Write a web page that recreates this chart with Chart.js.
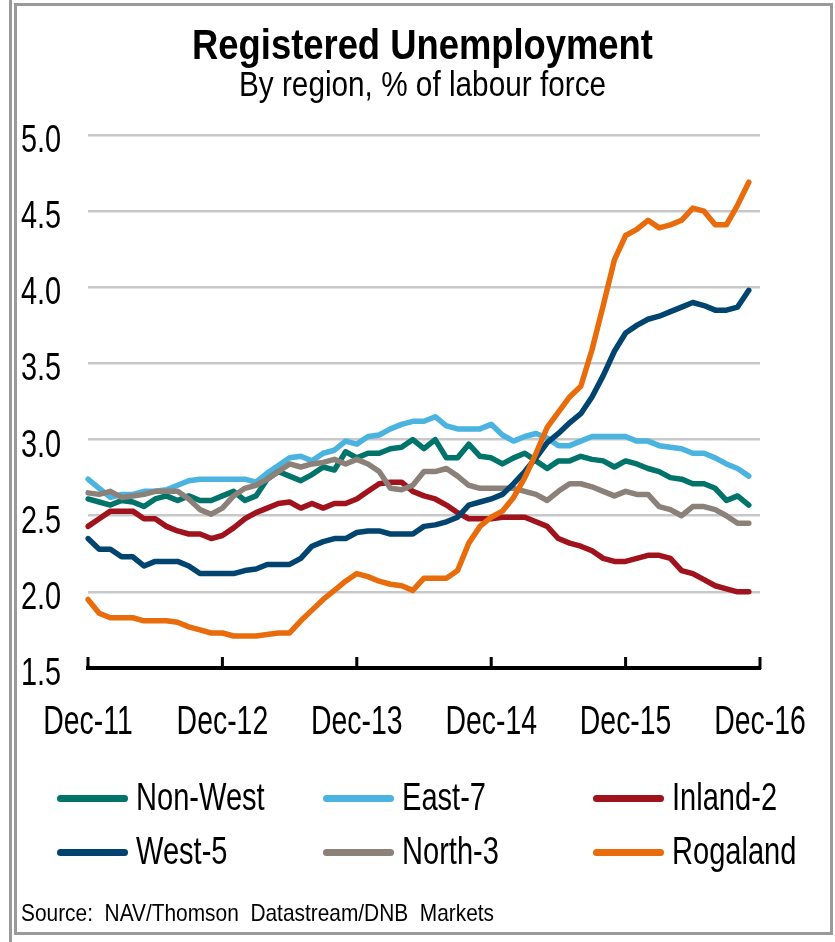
<!DOCTYPE html>
<html>
<head>
<meta charset="utf-8">
<script src="https://cdn.jsdelivr.net/npm/chart.js@4.4.1/dist/chart.umd.min.js"></script>
<style>
  html, body { margin: 0; padding: 0; background: #fff; }
  #wrap { position: relative; width: 835px; height: 942px; overflow: hidden;
    font-family: "Liberation Sans", Arial, sans-serif; color: #000; }
  #chart { position: absolute; left: 0; top: 0; }
  .rule { position: absolute; background: #9a9a9a; }
  .frame { position: absolute; left: 14px; top: 3px; width: 813px; height: 926px;
    border: 3px solid #9a9a9a; }
  .txt { position: absolute; white-space: pre; line-height: 1; }
  /* the original uses a narrow face: squeeze horizontally */
  #title { left: 5px; width: 835px; text-align: center; top: 24px; font-size: 42px; font-weight: bold;
    transform: scaleX(0.866); transform-origin: center; }
  #subtitle { left: 5px; width: 835px; text-align: center; top: 66px; font-size: 35px;
    transform: scaleX(0.85); transform-origin: center; }
  #source { left: 21px; top: 901px; font-size: 24px; transform: scaleX(0.87); transform-origin: left; }
  .sw { position: absolute; width: 71px; height: 7px; border-radius: 4px; }
  .lg { position: absolute; font-size: 38px; line-height: 1; white-space: pre;
    transform: scaleX(0.765); transform-origin: left; }
</style>
</head>
<body>
<div id="wrap">
  <div class="rule" style="left:9px;top:0;width:3px;height:942px"></div>
  <div class="frame"></div>
  <canvas id="chart" width="835" height="942"></canvas>
  <div id="title" class="txt">Registered Unemployment</div>
  <div id="subtitle" class="txt">By region, % of labour force</div>
  <div id="legend"></div>
  <div id="source" class="txt">Source:  NAV/Thomson  Datastream/DNB  Markets</div>
</div>
<script>
// monthly, Dec-11 .. Nov-16 (60 points); axis runs to Dec-16
const tickLabels = ["Dec-11", "Dec-12", "Dec-13", "Dec-14", "Dec-15", "Dec-16"];
const monthNames = ["Dec", "Jan", "Feb", "Mar", "Apr", "May", "Jun", "Jul", "Aug", "Sep", "Oct", "Nov"];

const nonWest = [2.61, 2.59, 2.57, 2.60, 2.59, 2.56, 2.61, 2.63, 2.60, 2.63, 2.60, 2.60,
  2.63, 2.66, 2.60, 2.63, 2.74, 2.79, 2.76, 2.73, 2.77, 2.82, 2.80, 2.92,
  2.88, 2.91, 2.91, 2.94, 2.95, 3.00, 2.94, 3.00, 2.88, 2.88, 2.97, 2.89,
  2.88, 2.84, 2.88, 2.91, 2.86, 2.81, 2.86, 2.86, 2.89, 2.87, 2.86, 2.82,
  2.86, 2.84, 2.81, 2.79, 2.75, 2.74, 2.71, 2.71, 2.68, 2.60, 2.63, 2.57];
const east7 = [2.74, 2.68, 2.62, 2.64, 2.64, 2.66, 2.66, 2.67, 2.70, 2.73, 2.74, 2.74,
  2.74, 2.74, 2.74, 2.72, 2.78, 2.83, 2.88, 2.89, 2.86, 2.91, 2.93, 2.99,
  2.97, 3.02, 3.03, 3.07, 3.10, 3.12, 3.12, 3.15, 3.09, 3.07, 3.07, 3.07,
  3.10, 3.03, 2.99, 3.02, 3.04, 3.01, 2.96, 2.96, 2.99, 3.02, 3.02, 3.02,
  3.02, 2.99, 2.99, 2.96, 2.95, 2.94, 2.91, 2.91, 2.88, 2.84, 2.81, 2.76];
const inland2 = [2.43, 2.48, 2.53, 2.53, 2.53, 2.48, 2.48, 2.43, 2.40, 2.38, 2.38, 2.35,
  2.37, 2.42, 2.48, 2.52, 2.55, 2.58, 2.59, 2.55, 2.58, 2.55, 2.58, 2.58,
  2.61, 2.66, 2.71, 2.72, 2.72, 2.66, 2.63, 2.61, 2.57, 2.52, 2.48, 2.48,
  2.48, 2.49, 2.49, 2.49, 2.46, 2.43, 2.35, 2.32, 2.30, 2.27, 2.22, 2.20,
  2.20, 2.22, 2.24, 2.24, 2.22, 2.14, 2.12, 2.08, 2.04, 2.02, 2.00, 2.00];
const west5 = [2.35, 2.28, 2.28, 2.23, 2.23, 2.17, 2.20, 2.20, 2.20, 2.17, 2.12, 2.12,
  2.12, 2.12, 2.14, 2.15, 2.18, 2.18, 2.18, 2.22, 2.30, 2.33, 2.35, 2.35,
  2.39, 2.40, 2.40, 2.38, 2.38, 2.38, 2.43, 2.44, 2.46, 2.49, 2.57, 2.59,
  2.61, 2.64, 2.71, 2.79, 2.88, 2.98, 3.04, 3.11, 3.17, 3.28, 3.42, 3.58,
  3.70, 3.75, 3.79, 3.81, 3.84, 3.87, 3.90, 3.88, 3.85, 3.85, 3.87, 3.98];
const north3 = [2.65, 2.64, 2.66, 2.62, 2.63, 2.64, 2.66, 2.66, 2.66, 2.61, 2.54, 2.51,
  2.55, 2.63, 2.68, 2.70, 2.74, 2.79, 2.84, 2.82, 2.84, 2.85, 2.87, 2.84,
  2.87, 2.84, 2.79, 2.68, 2.67, 2.70, 2.79, 2.79, 2.81, 2.76, 2.70, 2.68,
  2.68, 2.68, 2.68, 2.66, 2.64, 2.60, 2.66, 2.71, 2.71, 2.69, 2.66, 2.63,
  2.66, 2.64, 2.64, 2.56, 2.54, 2.50, 2.56, 2.56, 2.54, 2.50, 2.45, 2.45];
const rogaland = [1.95, 1.86, 1.83, 1.83, 1.83, 1.81, 1.81, 1.81, 1.80, 1.77, 1.75, 1.73,
  1.73, 1.71, 1.71, 1.71, 1.72, 1.73, 1.73, 1.81, 1.88, 1.95, 2.01, 2.07,
  2.12, 2.10, 2.07, 2.05, 2.04, 2.01, 2.09, 2.09, 2.09, 2.14, 2.32, 2.43,
  2.49, 2.53, 2.62, 2.75, 2.91, 3.08, 3.18, 3.28, 3.35, 3.59, 3.88, 4.18,
  4.34, 4.38, 4.44, 4.39, 4.41, 4.44, 4.52, 4.50, 4.41, 4.41, 4.54, 4.69];

const seriesNames = ["Non-West", "East-7", "Inland-2", "West-5", "North-3", "Rogaland"];
const seriesData = [nonWest, east7, inland2, west5, north3, rogaland];
const seriesColors = ["#00736b", "#4ab3e0", "#a0121c", "#00446f", "#8b8179", "#e96c0c"];
const drawOrder = [4, 5, 3, 1, 2, 0]; // lower = drawn on top

const months = [];
for (let i = 0; i <= 60; i++) {
  months.push(monthNames[i % 12] + "-" + (11 + Math.floor((i + 11) / 12)));
}

const FONT = "'Liberation Sans', Arial, sans-serif";

// upward tick marks at every December, plus narrow tick labels
const axisDecor = {
  id: "axisDecor",
  afterDraw(chart) {
    const { ctx, chartArea } = chart;
    const xs = chart.scales.x, ys = chart.scales.y;
    ctx.save();
    ctx.strokeStyle = "#000";
    ctx.lineWidth = 3;
    for (let i = 0; i < months.length; i += 12) {
      const px = xs.getPixelForValue(i);
      ctx.beginPath();
      ctx.moveTo(px, chartArea.bottom + 1);
      ctx.lineTo(px, chartArea.bottom - 11);
      ctx.stroke();
    }
    ctx.fillStyle = "#000";
    ctx.textBaseline = "alphabetic";
    ctx.font = "40px " + FONT;
    ctx.textAlign = "center";
    tickLabels.forEach((lab, k) => {
      ctx.save();
      ctx.translate(xs.getPixelForValue(k * 12), 734);
      ctx.scale(0.71, 1);
      ctx.fillText(lab, 0, 0);
      ctx.restore();
    });
    ctx.font = "38px " + FONT;
    ctx.textAlign = "left";
    ys.ticks.forEach((t) => {
      ctx.save();
      ctx.translate(21, ys.getPixelForValue(t.value) + 17);
      ctx.scale(0.76, 1);
      ctx.fillText(t.value.toFixed(1), 0, 0);
      ctx.restore();
    });
    ctx.restore();
  },
};

new Chart(document.getElementById("chart"), {
  type: "line",
  data: {
    labels: months,
    datasets: seriesNames.map((name, i) => ({
      label: name,
      data: seriesData[i],
      borderColor: seriesColors[i],
      backgroundColor: seriesColors[i],
      borderWidth: 5.5,
      pointRadius: 0,
      tension: 0,
      borderJoinStyle: "round",
      borderCapStyle: "round",
      order: drawOrder[i],
    })),
  },
  options: {
    responsive: false,
    animation: false,
    layout: { padding: { left: 20, right: 75, top: 135, bottom: 0 } },
    plugins: { legend: { display: false }, tooltip: { enabled: false }, title: { display: false } },
    scales: {
      x: {
        type: "category",
        grid: { display: false },
        border: { display: true, color: "#000", width: 4 },
        afterFit: (s) => { s.height = 274; },
        ticks: { display: false, autoSkip: false, maxRotation: 0 },
      },
      y: {
        min: 1.5,
        max: 5,
        grid: { color: "#c8c8c8", lineWidth: 2.5, drawTicks: false },
        border: { display: false },
        afterFit: (s) => { s.width = 68; },
        ticks: { display: false, stepSize: 0.5 },
      },
    },
  },
  plugins: [axisDecor],
});

// legend: 3 columns x 2 rows, as in the original
const legendCols = [57, 323, 593];
const legendRows = [798, 852];
const legendEl = document.getElementById("legend");
seriesNames.forEach((name, i) => {
  const col = i % 3, row = Math.floor(i / 3);
  const sw = document.createElement("div");
  sw.className = "sw";
  sw.style.left = legendCols[col] + "px";
  sw.style.top = (legendRows[row] - 3) + "px";
  sw.style.background = seriesColors[i];
  legendEl.appendChild(sw);
  const t = document.createElement("div");
  t.className = "lg";
  t.textContent = name;
  t.style.left = (legendCols[col] + 79) + "px";
  t.style.top = (legendRows[row] - 20) + "px";
  legendEl.appendChild(t);
});
</script>
</body>
</html>
